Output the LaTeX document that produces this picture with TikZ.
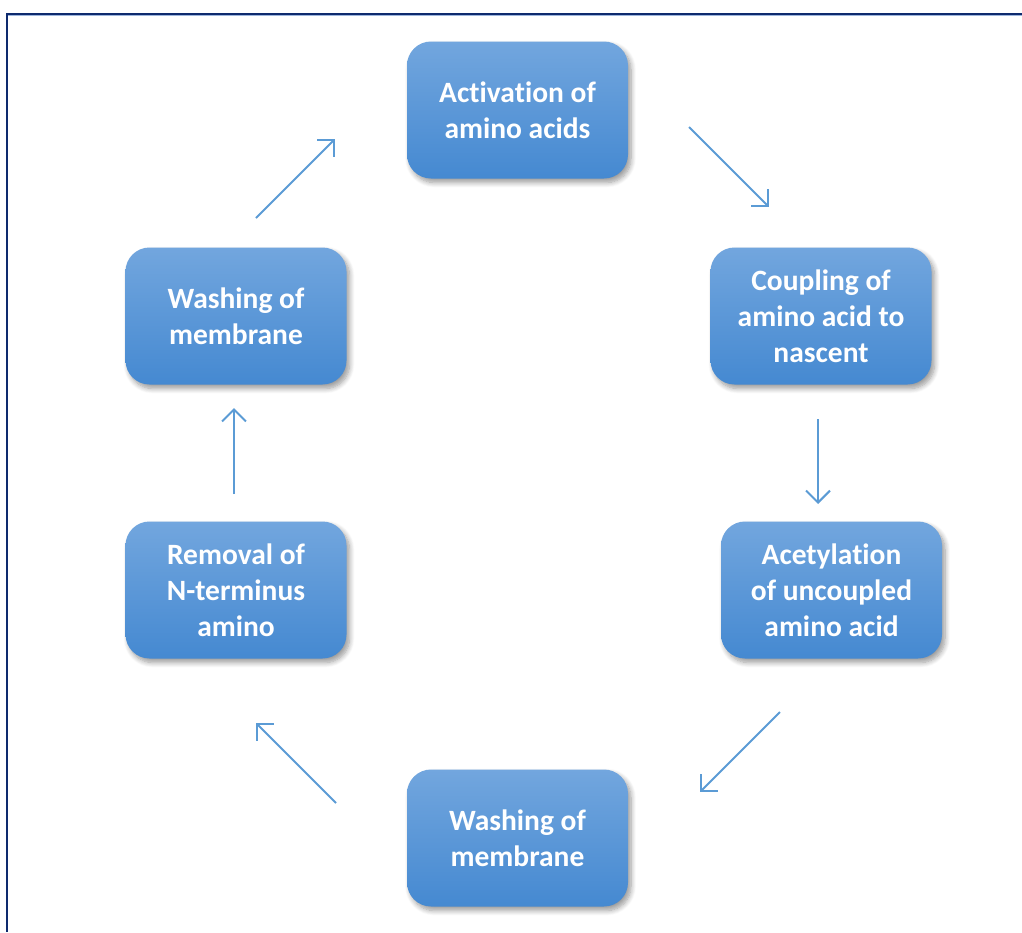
\documentclass[tikz,border=0pt]{standalone}
\usepackage{fontspec}
\setmainfont[Ligatures=CommonOff]{Carlito}
\usetikzlibrary{arrows.meta,shadows.blur}
\definecolor{boxtop}{HTML}{72A6DE}
\definecolor{boxbot}{HTML}{4589D1}
\definecolor{arrowblue}{HTML}{5B9BD5}
\definecolor{framenavy}{HTML}{0E2A6E}
\definecolor{framelight}{HTML}{9DB5DC}
\tikzset{
  stagebox/.style={rounded corners=24pt, minimum width=221pt, minimum height=137pt,
    top color=boxtop, bottom color=boxbot, draw=none,
    blur shadow={shadow xshift=3pt, shadow yshift=-4pt, shadow blur steps=8, shadow blur radius=5pt, shadow opacity=40},
    text=white, font=\fontsize{29.5}{36}\selectfont\bfseries, align=center, inner sep=4pt},
  flow/.style={draw=arrowblue, line width=2pt, -{Straight Barb[length=12pt,width=24pt,line width=2pt]}}
}
\begin{document}
\begin{tikzpicture}[x=1pt,y=-1pt]
\useasboundingbox (0,0) rectangle (1022,932);
% frame: top and left edges
\draw[framelight, line width=1pt] (8,15.8) -- (1022,15.8);
\draw[framenavy, line width=2pt] (6.5,14) -- (1022,14);
\draw[framenavy, line width=2pt] (6.5,13) -- (6.5,932);

\node[stagebox] (act)  at (517.5,110)  {Activation of\\amino acids};
\node[stagebox] (coup) at (821,316)    {Coupling of\\amino acid to\\nascent};
\node[stagebox] (acet) at (831.5,590)  {Acetylation\\of uncoupled\\amino acid};
\node[stagebox] (wash2) at (517.5,838) {Washing of\\membrane};
\node[stagebox] (rem)  at (236,590)    {Removal of\\N-terminus\\amino};
\node[stagebox] (wash1) at (236,316)   {Washing of\\membrane};

% cycle connectors, ends anchored as named points
\coordinate (a1s) at (689,127); \coordinate (a1e) at (769,207);
\coordinate (a2s) at (818,419); \coordinate (a2e) at (818,504);
\coordinate (a3s) at (780,712); \coordinate (a3e) at (700,792);
\coordinate (a4s) at (336,803); \coordinate (a4e) at (256,723);
\coordinate (a5s) at (234,494); \coordinate (a5e) at (234,408);
\coordinate (a6s) at (256,218); \coordinate (a6e) at (335,139);
\draw[flow] (a1s) -- (a1e);
\draw[flow] (a2s) -- (a2e);
\draw[flow] (a3s) -- (a3e);
\draw[flow] (a4s) -- (a4e);
\draw[flow] (a5s) -- (a5e);
\draw[flow] (a6s) -- (a6e);
\end{tikzpicture}
\end{document}
